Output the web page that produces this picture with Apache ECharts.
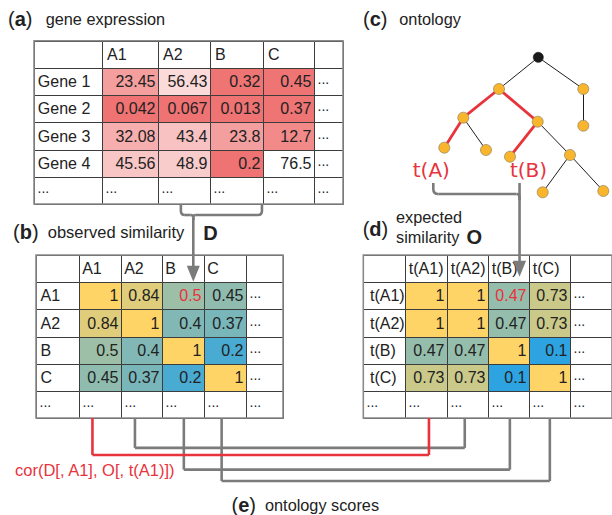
<!DOCTYPE html>
<html>
<head>
<meta charset="utf-8">
<script src="https://cdn.jsdelivr.net/npm/echarts@6/dist/echarts.min.js"></script>
<style>
  html, body { margin: 0; padding: 0; background: #fff; }
  #chart { width: 612px; height: 515px; }
</style>
</head>
<body>
<div id="chart"></div>
<script>
// ---------- (a) gene expression ----------
const geneSamples = ['A1', 'A2', 'B', 'C'];
const geneNames = ['Gene 1', 'Gene 2', 'Gene 3', 'Gene 4'];
const geneExpression = [
  [23.45, 56.43, 0.32, 0.45],
  [0.042, 0.067, 0.013, 0.37],
  [32.08, 43.4, 23.8, 12.7],
  [45.56, 48.9, 0.2, 76.5]
];

// ---------- (b) observed similarity D ----------
const observedLabels = ['A1', 'A2', 'B', 'C'];
const observedSimilarity = [
  [1, 0.84, 0.5, 0.45],
  [0.84, 1, 0.4, 0.37],
  [0.5, 0.4, 1, 0.2],
  [0.45, 0.37, 0.2, 1]
];
const observedHighlight = [0, 2];   // D[A1, B]

// ---------- (d) expected similarity O ----------
const termLabels = ['t(A1)', 't(A2)', 't(B)', 't(C)'];
const expectedSimilarity = [
  [1, 1, 0.47, 0.73],
  [1, 1, 0.47, 0.73],
  [0.47, 0.47, 1, 0.1],
  [0.73, 0.73, 0.1, 1]
];
const expectedHighlight = [0, 2];   // O[t(A1), t(B)]

// ---------- (c) ontology ----------
const ontologyTerms = ['root', 'n1', 'n2', 'n2a', 'n3', 'n4', 'tA', 'n3b', 'tB', 'n4b', 'n4b1', 'n4b2'];
const termPlacement = [
  [10.83, 0.73], [6.9, 3.9], [15.33, 3.9], [15.33, 7.57], [3.33, 6.77], [10.77, 7.17],
  [1.43, 9.77], [5.6, 10.0], [8.0, 10.67], [14.0, 10.5], [11.27, 14.23], [17.33, 14.1]
];
const ontologyEdges = [
  ['root', 'n1'], ['root', 'n2'], ['n2', 'n2a'], ['n1', 'n3'], ['n1', 'n4'],
  ['n3', 'tA'], ['n3', 'n3b'], ['n4', 'tB'], ['n4', 'n4b'], ['n4b', 'n4b1'], ['n4b', 'n4b2']
];
const pathEdges = [['n1', 'n3'], ['n3', 'tA'], ['n1', 'n4'], ['n4', 'tB']];
const termTags = { tA: 't(A)', tB: 't(B)' };

// ---------- (e) ontology scores: observed column -> expected column ----------
const scorePairs = [[0, 0], [1, 1], [2, 2], [3, 3]];
const scoreLabel = 'cor(D[, A1], O[, t(A1)])';

// ---------- styling / layout ----------
const FONT = '"Liberation Sans", Arial, Helvetica, sans-serif';
const TXT = '#222';
const RED = '#e8333c';
const GREY = '#7b7b7b';
const CELL_LINE = '#3c3c3c';

const tables = [
  { left: 34, top: 40.7, height: 163.3, widths: [68, 56, 52, 53, 51, 29], headPad: 4.5, rowPad: 3.3,
    cols: geneSamples, rows: geneNames, values: geneExpression, hl: null },
  { left: 36, top: 255, height: 163, widths: [43, 42, 41, 42, 42, 37], headPad: 2.7, rowPad: 4,
    cols: observedLabels, rows: observedLabels, values: observedSimilarity, hl: observedHighlight },
  { left: 363.3, top: 255, height: 163, widths: [44.4, 43.3, 43.3, 43, 43.7, 44], headPad: 3.3, rowPad: 6.5,
    cols: termLabels, rows: termLabels, values: expectedSimilarity, hl: expectedHighlight }
];
tables.forEach(t => {
  t.edges = t.widths.reduce((acc, w) => { acc.push(acc[acc.length - 1] + w); return acc; }, [0]);
  t.total = t.edges[t.edges.length - 1];
  t.nRows = t.rows.length + 2;
});

function cellBox(api, edges, c, r) {
  const a = api.coord([edges[c], r]);
  const b = api.coord([edges[c + 1], r + 1]);
  const x0 = Math.round(a[0]) + 0.5, x1 = Math.round(b[0]) + 0.5;
  const y0 = Math.round(Math.min(a[1], b[1])) + 0.5, y1 = Math.round(Math.max(a[1], b[1])) + 0.5;
  return { x: x0, y: y0, width: x1 - x0, height: y1 - y0 };
}

function textCells(t) {
  const cells = [];
  const m = t.cols.length, n = t.rows.length;
  cells.push({ c: 0, r: 0, kind: 'blank', text: '' });
  t.cols.forEach((name, j) => cells.push({ c: j + 1, r: 0, kind: 'head', text: name }));
  cells.push({ c: m + 1, r: 0, kind: 'blank', text: '' });
  t.rows.forEach((name, i) => {
    cells.push({ c: 0, r: i + 1, kind: 'row', text: name });
    cells.push({ c: m + 1, r: i + 1, kind: 'more', text: '...' });
  });
  for (let j = 0; j <= m + 1; j++) cells.push({ c: j, r: n + 1, kind: 'more', text: '...' });
  return cells;
}

const series = [];
tables.forEach((t, ti) => {
  const cells = textCells(t);
  series.push({
    type: 'custom', xAxisIndex: ti, yAxisIndex: ti, z: 2,
    data: cells.map(c => [c.c, c.r]),
    renderItem(params, api) {
      const cell = cells[params.dataIndex];
      const box = cellBox(api, t.edges, api.value(0), api.value(1));
      const children = [{ type: 'rect', shape: box, style: { fill: '#fff', stroke: CELL_LINE, lineWidth: 1 } }];
      if (cell.text) {
        const more = cell.kind === 'more';
        const pad = cell.kind === 'head' ? t.headPad : (cell.kind === 'row' ? t.rowPad : 3);
        children.push({
          type: 'text',
          style: {
            text: cell.text, x: box.x + pad, y: box.y + box.height / 2 + (more ? -3 : -0.5),
            align: 'left', verticalAlign: 'middle',
            font: (more ? '14px ' : '16px ') + FONT, fill: TXT
          }
        });
      }
      return { type: 'group', children };
    }
  });
  const vals = [];
  t.values.forEach((row, i) => row.forEach((v, j) => vals.push([j + 1, i + 1, v])));
  series.push({
    type: 'custom', xAxisIndex: ti, yAxisIndex: ti, z: 2,
    data: vals,
    renderItem(params, api) {
      const c = api.value(0), r = api.value(1), v = api.value(2);
      const box = cellBox(api, t.edges, c, r);
      const hot = t.hl && t.hl[0] === r - 1 && t.hl[1] === c - 1;
      return {
        type: 'group',
        children: [
          { type: 'rect', shape: box, style: { fill: api.visual('color'), stroke: CELL_LINE, lineWidth: 1 } },
          { type: 'text', style: {
              text: String(v), x: box.x + box.width - 3, y: box.y + box.height / 2 - 0.5,
              align: 'right', verticalAlign: 'middle', font: '16px ' + FONT, fill: hot ? RED : TXT } }
        ]
      };
    }
  });
});

const onPath = (s, d) => pathEdges.some(([a, b]) => a === s && b === d);
series.push({
  type: 'graph', coordinateSystem: 'cartesian2d', xAxisIndex: 3, yAxisIndex: 3,
  layout: 'none', roam: false, z: 3,
  symbol: 'circle', symbolSize: 11,
  itemStyle: { color: '#f9b62c', borderColor: '#8f8262', borderWidth: 0.7 },
  lineStyle: { color: '#1e1e1e', width: 1, opacity: 1, curveness: 0 },
  label: { show: false },
  emphasis: { disabled: true },
  data: ontologyTerms.map((name, i) => {
    const item = { name, value: termPlacement[i] };
    if (name === 'root') { item.symbolSize = 10; item.itemStyle = { color: '#1a1a1a', borderColor: '#1a1a1a' }; }
    if (termTags[name]) {
      item.label = {
        show: true, formatter: termTags[name], position: 'inside',
        offset: name === 'tA' ? [-13, 22.5] : [18.5, 13.5],
        color: RED, fontSize: 20, fontFamily: '"DejaVu Sans", Verdana, sans-serif'
      };
    }
    return item;
  }),
  links: ontologyEdges.map(([s, d]) => ({
    source: s, target: d,
    lineStyle: onPath(s, d) ? { color: RED, width: 2.8 } : { color: '#1e1e1e', width: 1 }
  }))
});

const exprMax = Math.max(...geneExpression.flat());

const option = {
  animation: false,
  grid: tables.map(t => ({
    left: t.left, top: t.top, width: t.total, height: t.height,
    show: true, borderColor: '#8a8a8a', borderWidth: 1.6, backgroundColor: 'rgba(0,0,0,0)', z: 10
  })).concat([{ left: 430, top: 50, width: 180, height: 150, show: false }]),
  xAxis: tables.map((t, i) => ({ type: 'value', gridIndex: i, min: 0, max: t.total, show: false }))
    .concat([{ type: 'value', gridIndex: 3, min: 0, max: 18, show: false }]),
  yAxis: tables.map((t, i) => ({ type: 'value', gridIndex: i, min: 0, max: t.nRows, inverse: true, show: false }))
    .concat([{ type: 'value', gridIndex: 3, min: 0, max: 15, inverse: true, show: false }]),
  visualMap: [
    { type: 'continuous', show: false, seriesIndex: 1, dimension: 2, min: 0, max: exprMax,
      inRange: { color: ['#ef7373', '#ffffff'] } },
    { type: 'continuous', show: false, seriesIndex: [3, 5], dimension: 2, min: 0, max: 1,
      inRange: { color: ['#119def', '#9dbfa7', '#ffd467'] } }
  ],
  series
};

const chart = echarts.init(document.getElementById('chart'), null, { renderer: 'svg', width: 612, height: 515 });
chart.setOption(option);

// ---------- annotations derived from the table axes ----------
const px = (gi, v) => chart.convertToPixel({ gridIndex: gi }, v);
const colX = (ti, c, frac) => { const e = tables[ti].edges; return px(ti, [e[c] + (e[c + 1] - e[c]) * frac, 0])[0]; };
const rowY = (ti, r) => px(ti, [0, r])[1];

const obsFrac = [0.32, 0.34, 0.52, 0.42];
const expFrac = [0.57, 0.44, 0.54, 0.51];
const scoreDepth = [7.36, 7.1, 7.9, 8.32];

const graphics = [];
const strokeStyle = color => ({ stroke: color, lineWidth: 2.6, fill: null, lineCap: 'butt' });

// polyline with rounded corners made of line + quadratic segments
function bend(points, radius, color) {
  const out = [];
  let start = points[0];
  for (let i = 1; i < points.length; i++) {
    const p = points[i];
    if (i === points.length - 1 || radius <= 0) {
      out.push({ type: 'line', z: 20, shape: { x1: start[0], y1: start[1], x2: p[0], y2: p[1] }, style: strokeStyle(color) });
      start = p;
      continue;
    }
    const n = points[i + 1];
    const d1 = Math.hypot(p[0] - start[0], p[1] - start[1]);
    const d2 = Math.hypot(n[0] - p[0], n[1] - p[1]);
    const r = Math.min(radius, d1 / 2, d2 / 2);
    const a = [p[0] + (start[0] - p[0]) * r / d1, p[1] + (start[1] - p[1]) * r / d1];
    const b = [p[0] + (n[0] - p[0]) * r / d2, p[1] + (n[1] - p[1]) * r / d2];
    out.push({ type: 'line', z: 20, shape: { x1: start[0], y1: start[1], x2: a[0], y2: a[1] }, style: strokeStyle(color) });
    out.push({ type: 'bezierCurve', z: 20, shape: { x1: a[0], y1: a[1], cpx1: p[0], cpy1: p[1], x2: b[0], y2: b[1] }, style: strokeStyle(color) });
    start = b;
  }
  return out;
}
const arrowHead = (x, tip) => ({
  type: 'polygon', z: 21, shape: { points: [[x - 6.5, tip - 16], [x + 6.5, tip - 16], [x, tip]] },
  style: { fill: GREY, stroke: null }
});
const txt = (text, x, y, font, fill) => ({
  type: 'text', z: 22, x, y,
  style: { text, font, fill, align: 'left', verticalAlign: 'middle' }
});
const tag = (letter, x, y) => ({
  type: 'text', z: 22, x, y,
  style: {
    text: '{p|(}{b|' + letter + '}{p|)}',
    verticalAlign: 'middle', align: 'left',
    rich: {
      p: { fontSize: 20, lineHeight: 20, fontFamily: FONT, fill: TXT },
      b: { fontSize: 20, lineHeight: 20, fontFamily: FONT, fontWeight: 'bold', fill: TXT }
    }
  }
});

// bottom score connectors: grey first, the highlighted one on top
const obsBottom = rowY(1, tables[1].nRows), expBottom = rowY(2, tables[2].nRows);
[1, 2, 3, 0].forEach(k => {
  const [oc, ec] = scorePairs[k];
  const x1 = colX(1, oc + 1, obsFrac[k]);
  const x2 = colX(2, ec + 1, expFrac[k]);
  const y = rowY(1, scoreDepth[k]);
  graphics.push(...bend([[x1, obsBottom], [x1, y], [x2, y], [x2, expBottom]], 0, k === 0 ? RED : GREY));
});

// bracket under the expression table -> D[A1, B]
const aBottom = rowY(0, tables[0].nRows);
const bL = colX(0, 2, 0.44), bR = colX(0, 3, 0.98), bJ = colX(1, 3, 0.745);
const bMid = aBottom + 11;
graphics.push(...bend([[bL, aBottom], [bL, bMid], [bJ, bMid], [bJ, bMid + 5]], 4, GREY));
graphics.push(...bend([[bJ, bMid + 5], [bJ, bMid], [bR, bMid], [bR, aBottom]], 4, GREY));
const dTip = rowY(1, 1) - 0.5;
graphics.push(...bend([[bJ, bMid + 3], [bJ, dTip - 15]], 0, GREY));
graphics.push(arrowHead(bJ, dTip));

// bracket under t(A), t(B) -> O[t(A1), t(B)]
const oJ = colX(2, 3, 0.777);
const tL = 433.3, tTop = 183, tMid = 194;
graphics.push(...bend([[tL, tTop], [tL, tMid], [oJ, tMid], [oJ, tMid + 6]], 5, GREY));
const oTip = rowY(2, 0.8);
graphics.push(...bend([[oJ, tTop], [oJ, oTip - 15]], 0, GREY));
graphics.push(arrowHead(oJ, oTip));

// panel titles
graphics.push(tag('a', 8, 19), txt('gene expression', 45.7, 19, '16.3px ' + FONT, TXT));
graphics.push(tag('b', 13, 232), txt('observed similarity', 47.7, 232, '16.5px ' + FONT, TXT));
graphics.push(txt('D', 203.3, 233, 'bold 20px ' + FONT, TXT));
graphics.push(tag('c', 363, 19), txt('ontology', 399.3, 19, '16.3px ' + FONT, TXT));
graphics.push(tag('d', 362.7, 229), txt('expected', 396, 216.7, '16.3px ' + FONT, TXT));
graphics.push(txt('similarity', 396, 237, '16.3px ' + FONT, TXT), txt('O', 466.5, 237, 'bold 20px ' + FONT, TXT));
graphics.push(tag('e', 231.5, 504.5), txt('ontology scores', 265, 505, '16.3px ' + FONT, TXT));
graphics.push(txt(scoreLabel, 15, 470, '16.5px ' + FONT, RED));

chart.setOption({ graphic: { elements: graphics } });
</script>
</body>
</html>
